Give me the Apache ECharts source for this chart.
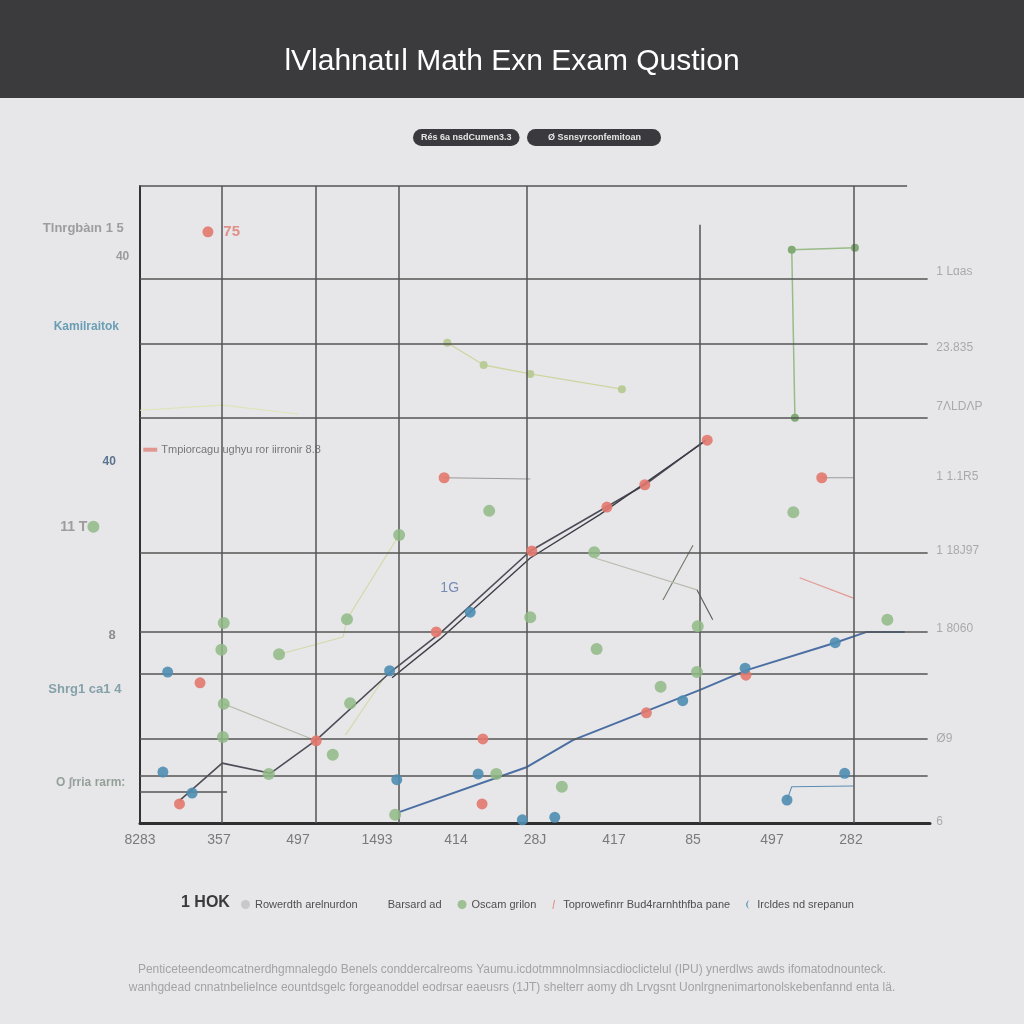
<!DOCTYPE html>
<html><head><meta charset="utf-8">
<script src="https://cdn.jsdelivr.net/npm/echarts@6/dist/echarts.min.js"></script>
<style>html,body{margin:0;padding:0;background:#e7e7e9}#c{width:1024px;height:1024px}</style>
</head><body><div id="c"></div>
<script>
// ---------- text ----------
const titleText = 'lVlahnatıl Math Exn Exam Qustion';
const pillNames = ['Rés 6a nsdCumen3.3', 'Ø Ssnsyrconfemitoan'];
const legendNames = ['Rowerdth arelnurdon', 'Barsard ad', 'Oscam grilon', 'Toprowefinrr Bud4rarnhthfba pane', 'Ircldes nd srepanun'];
const legendLead = '1 HOK';
const footerLines = [
  'Penticeteendeomcatnerdhgmnalegdo Benels conddercalreoms Yaumu.icdotmmnolmnsiacdioclictelul (IPU) ynerdlws awds ifomatodnounteck.',
  'wanhgdead cnnatnbelielnce eountdsgelc forgeanoddel eodrsar eaeusrs (1JT) shelterr aomy dh Lrvgsnt Uonlrgnenimartonolskebenfannd enta lä.'
];
const xTickValues = [0, 10, 20, 30, 40, 50, 60, 70, 80, 90];
const xTickLabels = ['8283', '357', '497', '1493', '414', '28J', '417', '85', '497', '282'];

// right-side labels
const rightLabels = ['1 Lɑas', '23.835', '7ΛLDΛP', '1 1.1R5', '1 18J97', '1 8060', 'Ø9', '6'];
const rightLabelY = [86.5, 74.6, 65.3, 54.3, 42.7, 30.5, 13.2, 0.2];

// left-side labels
const leftLabels = ['Tlnrgbàın 1 5', '40', 'Kamilraitok', '40', '11 T', '8', 'Shrg1 ca1 4', 'O ∫rria rarm:'];
const leftLabelX = [-1.3, -0.6, -1.9, -2.3, -5.9, -2.3, -1.6, -1.1];
const leftLabelY = [93.4, 88.9, 77.9, 56.7, 46.5, 29.4, 20.9, 6.3];

// in-plot notes
const noteTexts = ['Tmpiorcagu ughyu ror iirronir 8.8', '1G', '75'];
const notePoints = [[1.3, 58.6], [39.2, 36.9], [11.6, 92.8]];

// grid lines (value units)
const hGridY = [85.4, 75.2, 63.6, 42.5, 30.0, 23.5, 13.2, 7.4];
const vGridX = [10.4, 22.3, 32.7, 49.0, 90.3];
const partialV = [[70.8, 0, 93.9]];
const partialH = [[4.9, 0, 11.0]];
const topLine = [100, 0, 97.1];

// ---------- series values ----------
const darkLine = [[5.0, 3.5], [10.4, 9.4], [16.5, 7.8], [22.3, 13.0], [31.9, 23.9], [38.0, 29.8], [49.4, 42.7], [63.9, 53.1], [71.6, 60.1]];
const darkTwin = [[31.9, 22.8], [38.0, 28.9], [49.4, 41.6], [58.2, 48.4], [71.6, 60.0]];
const blueLine = [[32.8, 1.7], [49.0, 8.8], [54.8, 13.0], [70.9, 20.9], [76.8, 24.0], [88.0, 28.3], [92.0, 30.0], [96.8, 30.0]];
const greenStep = [[82.9, 63.6], [82.5, 90.0], [90.5, 90.3]];
const lightLine = [[38.9, 75.4], [43.5, 71.9], [49.4, 70.5], [61.0, 68.1]];
const greenDots = [[44.2, 49.0], [32.8, 45.2], [10.6, 31.4], [10.3, 27.2], [26.2, 32.0], [17.6, 26.5], [10.6, 18.7], [26.6, 18.8], [24.4, 10.7], [16.3, 7.7], [49.4, 32.3], [32.3, 1.3], [45.1, 7.7], [10.5, 13.5], [57.5, 42.5], [70.6, 30.9], [57.8, 27.3], [70.5, 23.7], [65.9, 21.4], [53.4, 5.7], [82.7, 48.8], [94.6, 31.9], [-5.9, 46.5]];
const redDots = [[7.6, 22.0], [43.4, 13.2], [43.3, 3.0], [37.5, 30.0], [22.3, 12.9], [49.6, 42.7], [38.5, 54.2], [86.3, 54.2], [63.9, 53.1], [71.8, 60.1], [59.1, 49.6], [76.7, 23.2], [64.1, 17.3], [8.6, 92.8], [5.0, 3.0]];
const tealDots = [[3.5, 23.7], [2.9, 8.0], [6.6, 4.7], [41.8, 33.1], [31.6, 23.9], [32.5, 6.8], [42.8, 7.7], [48.4, 0.5], [89.2, 7.8], [88.0, 28.3], [68.7, 19.2], [76.6, 24.3], [52.5, 0.9], [81.9, 3.6]];
const thinSegments = [
  [[66.2, 35.0], [70.0, 43.6]],
  [[70.5, 36.6], [72.5, 31.9]],
  [[57.6, 41.6], [70.5, 36.6]],
  [[17.6, 26.5], [21.9, 27.9], [25.7, 29.2], [26.2, 32.0], [32.8, 45.2]],
  [[26.0, 13.8], [30.8, 22.6]],
  [[10.6, 18.7], [22.3, 12.9]],
  [[0, 64.8], [10.4, 65.6], [20, 64.2]],
  [[81.9, 3.6], [82.5, 5.7], [90.3, 5.8]],
  [[38.5, 54.2], [49.4, 54.0]],
  [[86.3, 54.2], [90.3, 54.2]]
];
const pinkSegment = [[83.5, 38.5], [90.3, 35.3]];

// ---------- styles (kept apart from data) ----------
const leftLabelColors = ['#8b8b8b', '#8a8a8a', '#4a8ca8', '#3a5878', '#8a8a8a', '#777', '#6b8f99', '#7f8f85'];
const leftLabelSizes = [13, 12, 12, 12, 14, 13, 13, 12];
const noteColors = ['#5a5a5a', '#5b74a8', '#e07a70'];
const noteSizes = [11, 14, 15];
const segColors = ['#707a68', '#5a5a5a', '#b9bdb0', '#d2d9a8', '#d2d9a8', '#b9bdb0', '#dfe3b8', '#5c8db4', '#9a9a9a', '#9a9a9a'];

const narrow = '"Liberation Sans Narrow", "Liberation Sans", Arial, sans-serif';
const GRID = '#545454';

const markData = [];
hGridY.forEach(y => markData.push([{ coord: [0, y] }, { coord: [99.7, y] }]));
vGridX.forEach(x => markData.push([{ coord: [x, 0] }, { coord: [x, 100] }]));
partialV.forEach(p => markData.push([{ coord: [p[0], p[1]] }, { coord: [p[0], p[2]] }]));
partialH.forEach(p => markData.push([{ coord: [p[1], p[0]] }, { coord: [p[2], p[0]] }]));
markData.push([{ coord: [topLine[1], topLine[0]] }, { coord: [topLine[2], topLine[0]] }]);

const series = [];
series.push({
  name: 'rightLabels', type: 'scatter', clip: false, silent: true, symbolSize: 0,
  data: rightLabelY.map((y, i) => ({ value: [100.3, y], label: { formatter: rightLabels[i] } })),
  label: { show: true, position: 'right', distance: 4, color: '#9a9a9a', fontSize: 12, fontFamily: narrow },
  markLine: { silent: true, symbol: ['none', 'none'], label: { show: false }, animation: false,
    lineStyle: { color: GRID, width: 1.5, type: 'solid' }, data: markData }
});
series.push({
  name: 'leftLabels', type: 'scatter', clip: false, silent: true, symbolSize: 0,
  data: leftLabelY.map((y, i) => ({ value: [leftLabelX[i], y],
    label: { formatter: leftLabels[i], color: leftLabelColors[i], fontSize: leftLabelSizes[i] } })),
  label: { show: true, position: 'left', distance: 6, fontFamily: narrow, fontWeight: 'bold' }
});
thinSegments.forEach((seg, i) => series.push({
  name: 'seg' + i, type: 'line', data: seg, showSymbol: false, silent: true, z: 1,
  lineStyle: { color: segColors[i], width: 1.1 }
}));
series.push({ name: 'pink', type: 'line', data: pinkSegment, showSymbol: false, silent: true,
  lineStyle: { color: '#e39a95', width: 1.2 } });
series.push({ name: pillNames[0], type: 'line', data: lightLine, symbol: 'circle', symbolSize: 8, z: 3,
  lineStyle: { color: '#cdd69f', width: 1.3 }, itemStyle: { color: '#b9cc98' } });
series.push({ name: pillNames[1], type: 'line', data: greenStep, symbol: 'circle', symbolSize: 8, z: 3,
  lineStyle: { color: '#98bb88', width: 1.5 }, itemStyle: { color: '#82aa74' } });
series.push({ name: legendNames[0], type: 'line', data: darkLine, showSymbol: false, z: 4,
  lineStyle: { color: '#4d4d58', width: 1.6 }, itemStyle: { color: '#c9c9cc' } });
series.push({ name: legendNames[0], type: 'line', data: darkTwin, showSymbol: false, z: 4,
  lineStyle: { color: '#3d3d48', width: 1.4 } });
series.push({ name: legendNames[1], type: 'line', data: blueLine, showSymbol: false, z: 4,
  lineStyle: { color: '#4b6fa3', width: 2 }, itemStyle: { color: '#9aa7b8' } });
series.push({ name: legendNames[2], type: 'scatter', data: greenDots, symbolSize: 12, clip: false, z: 5,
  itemStyle: { color: '#8fb985', opacity: 0.85 } });
series.push({ name: legendNames[3], type: 'scatter', data: redDots, symbolSize: 11, clip: false, z: 6,
  itemStyle: { color: '#e2786e', opacity: 0.9 } });
series.push({ name: legendNames[4], type: 'scatter', data: tealDots, symbolSize: 11, clip: false, z: 6,
  itemStyle: { color: '#4f8db3', opacity: 0.9 } });
series.push({
  name: 'notes', type: 'scatter', clip: false, silent: true, z: 7,
  data: notePoints.map((p, i) => ({
    value: p,
    symbol: i === 0 ? 'rect' : 'circle',
    symbolSize: i === 0 ? [14, 4] : 0,
    itemStyle: { color: '#e0837a' },
    label: { formatter: noteTexts[i], color: noteColors[i], fontSize: noteSizes[i],
      fontWeight: i === 2 ? 'bold' : 'normal', position: i === 0 ? 'right' : 'inside' }
  })),
  label: { show: true, fontFamily: narrow, distance: 4 }
});

const pill = (name, left, pad) => ({
  data: [name], left: left, top: 129, icon: 'none', itemWidth: 0, itemHeight: 0, itemGap: 0,
  selectedMode: false, backgroundColor: '#3a3a3e', borderRadius: 9, padding: pad,
  textStyle: { color: '#e6e6e6', fontSize: 9, fontWeight: 'bold', fontFamily: narrow }
});

const chart = echarts.init(document.getElementById('c'), null, { renderer: 'canvas' });
chart.setOption({
  backgroundColor: '#e7e7e9',
  animation: false,
  graphic: [{ type: 'rect', z: 0, shape: { x: 0, y: 0, width: 1024, height: 98 }, style: { fill: '#3b3b3d' } }],
  title: [
    { text: titleText, left: 'center', top: 42, z: 10,
      textStyle: { color: '#ffffff', fontSize: 30, fontWeight: 'normal', fontFamily: narrow } },
    { text: legendLead, left: 176, top: 890, z: 10,
      textStyle: { color: '#3a3a3a', fontSize: 16, fontWeight: 'bold', fontFamily: '"Liberation Sans", Arial' } },
    { text: footerLines.join('\n'), left: 'center', top: 956, z: 10,
      textStyle: { color: '#a3a3a6', fontSize: 12, fontWeight: 'normal', lineHeight: 18, fontFamily: narrow } }
  ],
  legend: [
    pill(pillNames[0], 413, [4, 8, 4, 3]),
    pill(pillNames[1], 527, [4, 20, 4, 16]),
    { data: [
        { name: legendNames[0], icon: 'circle' },
        { name: legendNames[1], icon: 'none' },
        { name: legendNames[2], icon: 'circle' },
        { name: legendNames[3], icon: 'path://M0,10 L2,0 L3,0 L1,10 Z' },
        { name: legendNames[4], icon: 'path://M6,0 C1,2 1,8 6,10 C3,8 3,2 6,0 Z' }
      ],
      left: 236, top: 894, itemWidth: 9, itemHeight: 9, itemGap: 16, selectedMode: false,
      textStyle: { color: '#4f4f4f', fontSize: 11, fontFamily: narrow } }
  ],
  grid: { left: 140, right: 94, top: 186, bottom: 201, containLabel: false },
  xAxis: {
    type: 'value', min: 0, max: 100, interval: 10,
    axisLine: { show: true, lineStyle: { color: '#2f2f2f', width: 3 } },
    axisTick: { show: false }, splitLine: { show: false },
    axisLabel: { margin: 10, color: '#7a7a7a', fontSize: 14, fontFamily: narrow,
      formatter: v => { const i = xTickValues.indexOf(Math.round(v)); return i >= 0 ? xTickLabels[i] : ''; } }
  },
  yAxis: {
    type: 'value', min: 0, max: 100, interval: 10,
    axisLine: { show: true, lineStyle: { color: '#333', width: 2 } },
    axisTick: { show: false }, splitLine: { show: false }, axisLabel: { show: false }
  },
  series: series
});
</script></body></html>
